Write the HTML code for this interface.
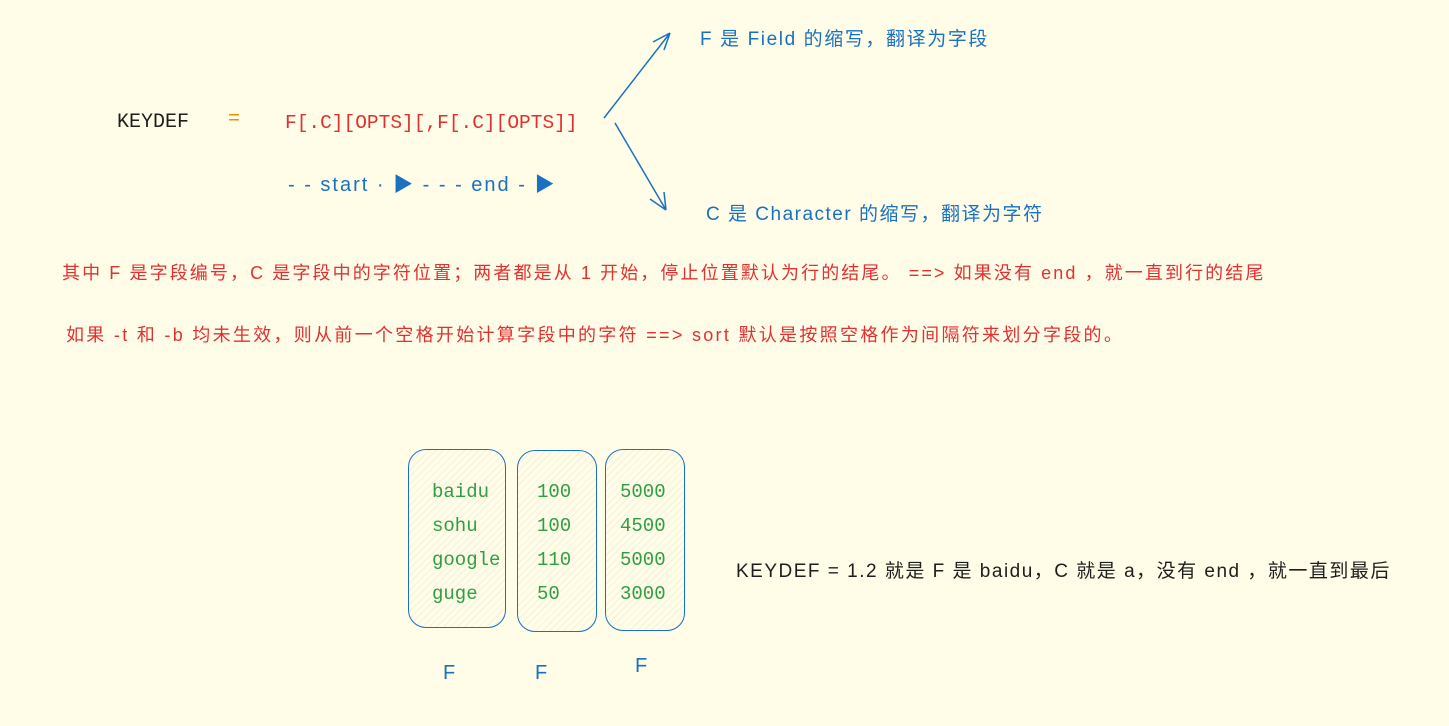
<!DOCTYPE html>
<html><head><meta charset="utf-8"><style>
body{margin:0;width:1449px;height:726px;background:#fffce8;overflow:hidden;position:relative;font-family:"Liberation Sans","Noto Sans CJK SC",sans-serif}
.t{position:absolute;white-space:nowrap}
.m{font-family:"Liberation Mono","Noto Sans CJK SC",monospace}
.box{position:absolute;border:1.5px solid #1971c2;border-radius:18px;background:repeating-linear-gradient(135deg,#fffce8 0 4px,#f3f0dc 4px 5px)}
.g{color:#2f9e44;font-size:19px;line-height:34px}
</style></head><body>
<div class="t m" style="left:117px;top:111px;font-size:20px;color:#1e1e1e">KEYDEF</div>
<div class="t m" style="left:228px;top:108px;font-size:20px;color:#f08c00">=</div>
<div class="t m" style="left:285px;top:112px;font-size:19.5px;color:#e03131">F[.C][OPTS][,F[.C][OPTS]]</div>
<div class="t" style="left:288px;top:168px;font-size:20px;color:#1971c2;letter-spacing:2px">- - start · ▶ - - - end - ▶</div>
<svg style="position:absolute;left:0;top:0" width="1449" height="726">
<g stroke="#1971c2" stroke-width="1.5" fill="none">
<path d="M604 118 L670 33 M670 33 L653 42 M670 33 L664 50"/>
<path d="M615 123 L666 210 M666 210 L650 199 M666 210 L664 192"/>
</g></svg>
<div class="t" style="left:700px;top:24px;font-size:19px;color:#1971c2;letter-spacing:1.6px">F 是 Field 的缩写，翻译为字段</div>
<div class="t" style="left:706px;top:199px;font-size:19px;color:#1971c2;letter-spacing:1.5px">C 是 Character 的缩写，翻译为字符</div>
<div class="t" style="left:62px;top:259px;font-size:18px;color:#e03131;letter-spacing:2.1px">其中 F 是字段编号，C 是字段中的字符位置；两者都是从 1 开始，停止位置默认为行的结尾。 ==&gt; 如果没有 end ，就一直到行的结尾</div>
<div class="t" style="left:66px;top:321px;font-size:18px;color:#e03131;letter-spacing:2.3px">如果 -t 和 -b 均未生效，则从前一个空格开始计算字段中的字符 ==&gt; sort 默认是按照空格作为间隔符来划分字段的。</div>
<div class="box" style="left:408px;top:449px;width:96px;height:177px"></div>
<div class="box" style="left:517px;top:450px;width:78px;height:180px"></div>
<div class="box" style="left:605px;top:449px;width:78px;height:180px"></div>
<div class="t m g" style="left:432px;top:475px">baidu<br>sohu<br>google<br>guge</div>
<div class="t m g" style="left:537px;top:475px">100<br>100<br>110<br>50</div>
<div class="t m g" style="left:620px;top:475px">5000<br>4500<br>5000<br>3000</div>
<div class="t" style="left:443px;top:662px;font-size:20px;color:#1971c2">F</div>
<div class="t" style="left:535px;top:662px;font-size:20px;color:#1971c2">F</div>
<div class="t" style="left:635px;top:655px;font-size:20px;color:#1971c2">F</div>
<div class="t" style="left:736px;top:556px;font-size:19px;color:#1e1e1e;letter-spacing:1.5px">KEYDEF = 1.2 就是 F 是 baidu，C 就是 a，没有 end ，就一直到最后</div>
</body></html>
